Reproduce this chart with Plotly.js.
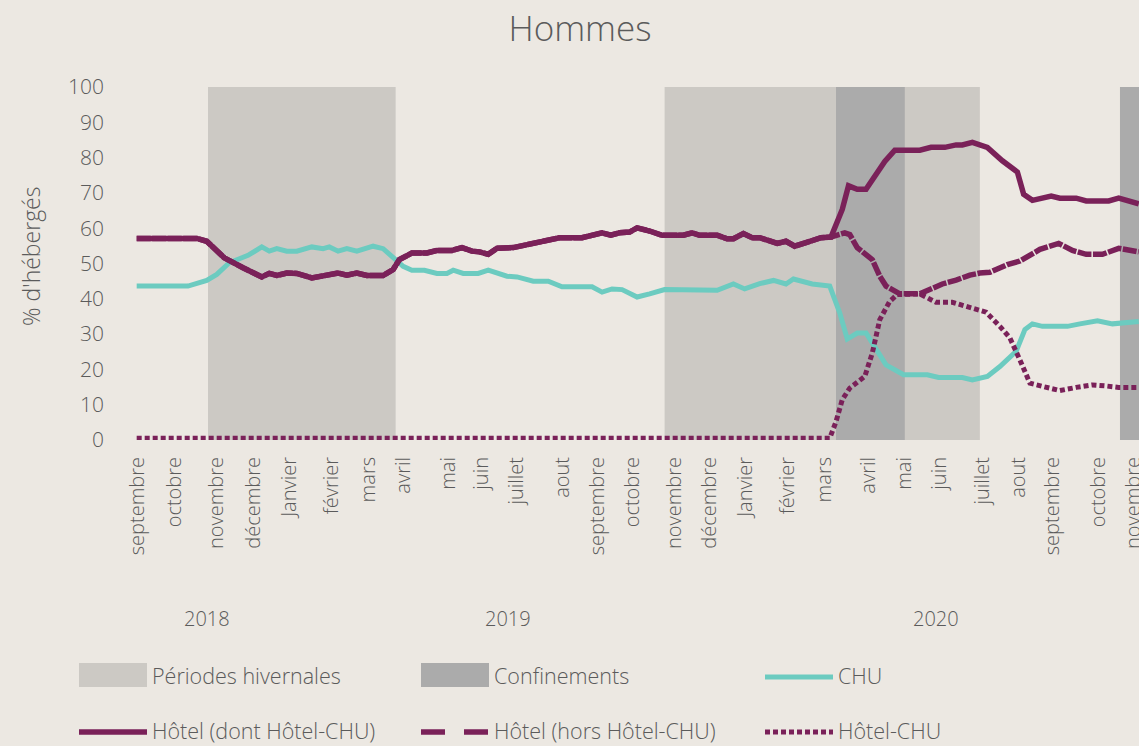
<!DOCTYPE html>
<html>
<head>
<meta charset="utf-8">
<script src="https://cdn.plot.ly/plotly-3.0.1.min.js"></script>
<style>html,body{margin:0;padding:0;background:#ECE8E2;}#chart{width:1139px;height:746px;}</style>
</head>
<body>
<div id="chart"></div>
<script>
// ---------- DATA ----------
const chartTitle = 'Hommes';
const yAxisTitle = "% d'hébergés";

const monthTickDates = ['2018-09-06','2018-10-05','2018-11-08','2018-12-07','2019-01-05','2019-02-08','2019-03-09','2019-04-06','2019-05-12','2019-06-08','2019-07-06','2019-08-11','2019-09-08','2019-10-06','2019-11-09','2019-12-07','2020-01-05','2020-02-07','2020-03-08','2020-04-12','2020-05-11','2020-06-08','2020-07-12','2020-08-10','2020-09-06','2020-10-13','2020-11-10'];
const monthTickLabels = ['septembre','octobre','novembre','décembre','Janvier','février','mars','avril','mai','juin','juillet','aout','septembre','octobre','novembre','décembre','Janvier','février','mars','avril','mai','juin','juillet','aout','septembre','octobre','novembre'];

const yearLabels = ['2018','2019','2020'];
const yearCenters = ['2018-10-31','2019-06-29','2020-06-05'];

const winterStarts = ['2018-11-01','2019-11-01'];
const winterEnds   = ['2019-03-31','2020-07-10'];
const lockdownStarts = ['2020-03-17','2020-10-30'];
const lockdownEnds   = ['2020-05-11','2020-12-31'];

const chuDates = ['2018-09-05','2018-10-16','2018-10-31','2018-11-08','2018-11-18','2018-12-03','2018-12-14','2018-12-20','2018-12-26','2019-01-03','2019-01-11','2019-01-23','2019-02-01','2019-02-06','2019-02-13','2019-02-20','2019-02-28','2019-03-13','2019-03-21','2019-03-29','2019-04-06','2019-04-13','2019-04-23','2019-05-03','2019-05-11','2019-05-16','2019-05-24','2019-06-05','2019-06-13','2019-06-28','2019-07-06','2019-07-19','2019-07-31','2019-08-11','2019-09-04','2019-09-12','2019-09-20','2019-09-28','2019-10-10','2019-10-20','2019-11-01','2019-12-13','2019-12-26','2020-01-04','2020-01-16','2020-01-27','2020-02-06','2020-02-12','2020-02-27','2020-03-12','2020-03-20','2020-03-26','2020-04-03','2020-04-10','2020-04-18','2020-04-26','2020-05-10','2020-05-29','2020-06-07','2020-06-26','2020-07-04','2020-07-16','2020-07-26','2020-08-08','2020-08-15','2020-08-21','2020-08-29','2020-09-18','2020-09-28','2020-10-12','2020-10-24','2020-11-14'];
const chuValues = [43.6,43.6,45.2,46.9,50.2,52.3,54.7,53.5,54.2,53.5,53.5,54.7,54.2,54.7,53.5,54.2,53.5,54.9,54.2,51.6,49.2,48.1,48.1,47.2,47.2,48.1,47.2,47.2,48.1,46.4,46.2,45.0,45.0,43.4,43.4,41.9,42.8,42.6,40.5,41.4,42.6,42.4,44.2,42.8,44.3,45.2,44.2,45.6,44.2,43.6,36.0,28.6,30.3,30.3,26.0,21.3,18.5,18.5,17.7,17.7,17.0,18.0,20.8,25.1,31.3,32.9,32.2,32.2,32.9,33.8,32.9,33.6];

// Hôtel: both hotel lines coincide until mid-March 2020 (no Hôtel-CHU yet)
const hotelCommonDates = ['2018-09-05','2018-10-23','2018-10-31','2018-11-14','2018-11-29','2018-12-04','2018-12-14','2018-12-20','2018-12-26','2019-01-03','2019-01-11','2019-01-23','2019-02-01','2019-02-06','2019-02-13','2019-02-20','2019-02-28','2019-03-08','2019-03-21','2019-03-29','2019-04-03','2019-04-11','2019-04-13','2019-04-25','2019-05-03','2019-05-15','2019-05-23','2019-05-31','2019-06-06','2019-06-13','2019-06-20','2019-07-03','2019-07-14','2019-07-24','2019-08-09','2019-08-27','2019-09-12','2019-09-19','2019-09-26','2019-10-04','2019-10-10','2019-10-20','2019-10-30','2019-11-16','2019-11-23','2019-11-29','2019-12-13','2019-12-21','2019-12-26','2020-01-03','2020-01-10','2020-01-16','2020-01-30','2020-02-06','2020-02-13','2020-02-22','2020-03-05','2020-03-13'];
const hotelCommonValues = [57.1,57.1,56.3,51.6,48.8,47.8,46.2,47.2,46.6,47.3,47.2,45.9,46.6,46.7,47.3,46.7,47.3,46.6,46.6,48.3,51.1,52.6,53.0,53.0,53.7,53.7,54.5,53.5,53.3,52.6,54.3,54.5,55.4,56.2,57.3,57.3,58.7,58.0,58.7,58.9,60.1,59.2,58.0,58.0,58.7,58.0,58.0,57.0,57.0,58.5,57.3,57.3,55.7,56.3,54.9,55.9,57.3,57.5];

const hotelDontDates = ['2020-03-17','2020-03-22','2020-03-27','2020-04-03','2020-04-10','2020-04-17','2020-04-25','2020-05-03','2020-05-23','2020-06-01','2020-06-12','2020-06-21','2020-06-26','2020-07-04','2020-07-10','2020-07-16','2020-07-28','2020-08-09','2020-08-14','2020-08-21','2020-09-05','2020-09-12','2020-09-25','2020-10-03','2020-10-21','2020-10-29','2020-11-14'];
const hotelDontValues = [60.6,65.3,72.0,71.0,71.0,74.8,78.9,82.1,82.1,82.9,82.9,83.6,83.6,84.3,83.8,82.9,79.1,75.9,69.6,67.9,69.1,68.5,68.5,67.7,67.7,68.5,66.9];

const hotelHorsDates = ['2020-03-24','2020-03-28','2020-04-03','2020-04-15','2020-04-21','2020-04-26','2020-05-07','2020-05-23','2020-05-31','2020-06-10','2020-06-21','2020-07-02','2020-07-10','2020-07-18','2020-08-01','2020-08-11','2020-08-27','2020-09-11','2020-09-22','2020-10-03','2020-10-16','2020-10-29','2020-11-14'];
const hotelHorsValues = [58.7,58.2,54.5,51.1,46.4,43.6,41.4,41.4,42.8,44.2,45.3,46.7,47.3,47.5,49.7,50.7,54.0,55.7,53.7,52.6,52.6,54.3,53.3];

const hotelChuDates = ['2018-09-05','2020-03-12','2020-03-17','2020-03-22','2020-03-28','2020-04-09','2020-04-15','2020-04-21','2020-04-29','2020-05-05','2020-05-23','2020-06-05','2020-06-18','2020-07-02','2020-07-15','2020-07-26','2020-08-03','2020-08-11','2020-08-19','2020-08-29','2020-09-12','2020-09-25','2020-10-08','2020-10-19','2020-10-29','2020-11-14'];
const hotelChuValues = [0.5,0.5,5.2,11.4,14.7,18.0,24.6,34.1,39.3,41.2,41.4,39.0,39.0,37.6,36.2,32.2,28.9,22.7,16.1,15.2,14.0,14.9,15.6,15.3,14.9,14.9];

const seriesNames = ['CHU','Hôtel (dont Hôtel-CHU)','Hôtel (hors Hôtel-CHU)','Hôtel-CHU'];
const bandNames = ['Périodes hivernales','Confinements'];

// ---------- STYLE ----------
const W = 1139, H = 746;
const M = {l:135, r:0, t:87, b:306};
const PW = W - M.l - M.r, PH = H - M.t - M.b;
const BG = '#ECE8E2', TXT = '#5B5B5B';
const WINTER = '#CCC9C4', LOCK = '#ABABAB';
const TEAL = '#6CCBC0', PURPLE = '#7A2159';
const FONT = '"Open Sans", Lato, sans-serif';
const FW = 300;

const px2x = px => (px - M.l) / PW;
const py2y = py => (M.t + PH - py) / PH;

const traces = [
  {x: chuDates, y: chuValues, name: seriesNames[0], mode: 'lines', line: {color: TEAL, width: 5}},
  {x: hotelCommonDates.concat(hotelDontDates), y: hotelCommonValues.concat(hotelDontValues), name: seriesNames[1], mode: 'lines', line: {color: PURPLE, width: 5.5}},
  {x: hotelCommonDates.concat(hotelHorsDates), y: hotelCommonValues.concat(hotelHorsValues), name: seriesNames[2], mode: 'lines', line: {color: PURPLE, width: 5.5, dash: '14px,1.5px'}},
  {x: hotelChuDates, y: hotelChuValues, name: seriesNames[3], mode: 'lines', line: {color: PURPLE, width: 5, dash: '5px,3px'}}
];
traces.forEach(t => { t.showlegend = false; t.hoverinfo = 'skip'; });

const shapes = [];
winterStarts.forEach((s, i) => shapes.push({type:'rect', xref:'x', yref:'y', x0:s, x1:winterEnds[i], y0:0, y1:100, fillcolor:WINTER, line:{width:0}, layer:'below'}));
lockdownStarts.forEach((s, i) => shapes.push({type:'rect', xref:'x', yref:'y', x0:s, x1:lockdownEnds[i], y0:0, y1:100, fillcolor:LOCK, line:{width:0}, layer:'below'}));

const annotations = [];
// y-axis title
annotations.push({xref:'paper', yref:'paper', x:px2x(31), y:py2y(257), text:yAxisTitle, textangle:-90, showarrow:false, xanchor:'center', yanchor:'middle', font:{family:FONT, size:23, color:TXT, weight:FW}});
// year labels
yearLabels.forEach((yl, i) => annotations.push({xref:'x', yref:'paper', x:yearCenters[i], y:py2y(618), text:yl, showarrow:false, xanchor:'center', yanchor:'middle', font:{family:FONT, size:20, color:TXT, weight:FW}}));

// manual legend (3 columns x 2 rows)
const colPx = [79, 421, 765];
const rowPx = [675, 730];
const legendItems = [
  {kind:'rect', color:WINTER, label:bandNames[0], col:0, row:0},
  {kind:'rect', color:LOCK, label:bandNames[1], col:1, row:0},
  {kind:'line', color:TEAL, width:5, dash:'solid', label:seriesNames[0], col:2, row:0},
  {kind:'line', color:PURPLE, width:5.5, dash:'solid', label:seriesNames[1], col:0, row:1},
  {kind:'line', color:PURPLE, width:5.5, dash:'24px,19px', label:seriesNames[2], col:1, row:1},
  {kind:'line', color:PURPLE, width:5, dash:'5px,3px', label:seriesNames[3], col:2, row:1}
];
legendItems.forEach(it => {
  const x0 = colPx[it.col], x1 = x0 + 68, yc = rowPx[it.row];
  if (it.kind === 'rect') {
    shapes.push({type:'rect', xref:'paper', yref:'paper', x0:px2x(x0), x1:px2x(x1), y0:py2y(yc+12), y1:py2y(yc-12), fillcolor:it.color, line:{width:0}});
  } else {
    shapes.push({type:'line', xref:'paper', yref:'paper', x0:px2x(x0), x1:px2x(x1), y0:py2y(yc+2), y1:py2y(yc+2), line:{color:it.color, width:it.width, dash:it.dash}});
  }
  annotations.push({xref:'paper', yref:'paper', x:px2x(x1 + 4), y:py2y(yc), text:it.label, showarrow:false, xanchor:'left', yanchor:'middle', borderpad:0, font:{family:FONT, size:21.5, color:TXT, weight:FW}});
});

const layout = {
  width: W, height: H,
  margin: M,
  paper_bgcolor: BG, plot_bgcolor: BG,
  font: {family: FONT, color: TXT, weight: FW},
  title: {text: chartTitle, x: 580 / W, xanchor: 'center', xref: 'container', y: 1 - 29 / H, yanchor: 'middle', yref: 'container', font: {family: FONT, size: 35, color: TXT, weight: FW}},
  showlegend: false,
  xaxis: {
    type: 'date',
    range: ['2018-09-03 15:36', '2020-11-14 05:00'],
    tickmode: 'array', tickvals: monthTickDates, ticktext: monthTickLabels,
    tickangle: -90, tickfont: {family: FONT, size: 20, color: TXT, weight: FW},
    ticklabeloverflow: 'allow',
    showgrid: false, zeroline: false, showline: false, ticks: '',
    ticklabelstandoff: 12, fixedrange: true
  },
  yaxis: {
    range: [0, 100], tickmode: 'linear', tick0: 0, dtick: 10,
    tickfont: {family: FONT, size: 21, color: TXT, weight: FW},
    showgrid: false, zeroline: false, showline: false, ticks: '',
    ticklabelstandoff: 30, fixedrange: true
  },
  shapes: shapes,
  annotations: annotations
};

Plotly.newPlot('chart', traces, layout, {displayModeBar: false, staticPlot: true});
</script>
</body>
</html>
